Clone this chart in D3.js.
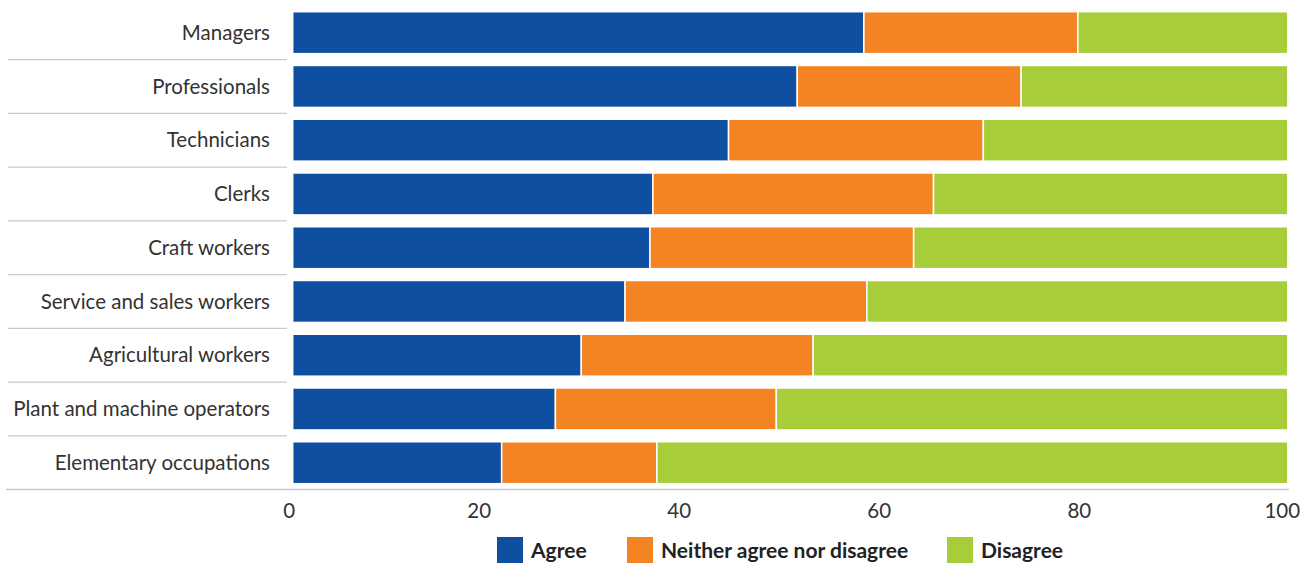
<!DOCTYPE html>
<html>
<head>
<meta charset="utf-8">
<script src="https://cdn.jsdelivr.net/npm/d3@7"></script>
<style>
  html, body { margin: 0; padding: 0; background: #fff; }
  svg { display: block; }
  text { font-family: Lato, "Noto Sans", sans-serif; }
</style>
</head>
<body>
<svg id="chart" width="1312" height="563"></svg>
<script>
// Occupation groups, top to bottom
const categories = [
  "Managers",
  "Professionals",
  "Technicians",
  "Clerks",
  "Craft workers",
  "Service and sales workers",
  "Agricultural workers",
  "Plant and machine operators",
  "Elementary occupations"
];

// Share of respondents (%) per answer
const agree    = [57.4, 50.7, 43.8, 36.2, 35.9, 33.4, 29.0, 26.4, 21.0];
const neither  = [21.5, 22.5, 25.6, 28.2, 26.5, 24.3, 23.3, 22.2, 15.6];
const disagree = [21.1, 26.8, 30.6, 35.6, 37.6, 42.3, 47.7, 51.4, 63.4];

const seriesNames = ["Agree", "Neither agree nor disagree", "Disagree"];
const seriesColors = ["#0e4fa1", "#f48423", "#a8cd3a"];
const tickValues = [0, 20, 40, 60, 80, 100];

const rows = categories.map((c, i) => ({
  category: c,
  "Agree": agree[i],
  "Neither agree nor disagree": neither[i],
  "Disagree": disagree[i]
}));

const svg = d3.select("#chart");

const x = d3.scaleLinear().domain([0, 100]).range([292.7, 1287.8]);
const y = d3.scaleBand().domain(categories).range([5.8, 489.6])
  .paddingInner(0.22).paddingOuter(0.11);
const color = d3.scaleOrdinal().domain(seriesNames).range(seriesColors);

const stacked = d3.stack().keys(seriesNames)(rows);

// Row separators in the label column
const step = y.step();
svg.append("g")
  .selectAll("line")
  .data(categories.slice(1))
  .join("line")
  .attr("x1", 8).attr("x2", 287)
  .attr("y1", d => y(d) - (step - y.bandwidth()) / 2)
  .attr("y2", d => y(d) - (step - y.bandwidth()) / 2)
  .attr("stroke", "#c9c9c9")
  .attr("stroke-width", 1.2);

// Baseline under the last row
svg.append("line")
  .attr("x1", 6).attr("x2", 1289)
  .attr("y1", y.range()[1]).attr("y2", y.range()[1])
  .attr("stroke", "#c9c9c9")
  .attr("stroke-width", 1.5);

// Stacked bars
svg.append("g")
  .selectAll("g")
  .data(stacked)
  .join("g")
  .attr("fill", d => color(d.key))
  .selectAll("rect")
  .data(d => d)
  .join("rect")
  .attr("x", d => x(d[0]))
  .attr("width", d => x(d[1]) - x(d[0]))
  .attr("y", d => y(d.data.category))
  .attr("height", y.bandwidth())
  .attr("stroke", "#fff")
  .attr("stroke-width", 1.5);

// Category labels
svg.append("g")
  .selectAll("text")
  .data(categories)
  .join("text")
  .attr("x", 270)
  .attr("y", d => y(d) + y.bandwidth() / 2)
  .attr("dy", "0.35em")
  .attr("text-anchor", "end")
  .attr("fill", "#333")
  .attr("font-size", 20.5)
  .text(d => d);

// Value axis
const tickShift = { 0: -4, 20: -13, 40: -12, 60: -11, 80: -10, 100: -6 };
const axis = svg.append("g")
  .attr("transform", `translate(0,${y.range()[1]})`)
  .call(d3.axisBottom(x).tickValues(tickValues).tickSize(0).tickPadding(0));
axis.select(".domain").remove();
axis.selectAll("text")
  .attr("font-family", "Lato, 'Noto Sans', sans-serif")
  .attr("font-size", 20.5)
  .attr("fill", "#333")
  .attr("dy", 0)
  .attr("y", 28)
  .attr("dx", d => tickShift[d]);

// Legend
const legendX = [497, 627, 947];
const legend = svg.append("g")
  .selectAll("g")
  .data(seriesNames)
  .join("g")
  .attr("transform", (d, i) => `translate(${legendX[i]},537)`);
legend.append("rect")
  .attr("width", 26).attr("height", 26)
  .attr("fill", d => color(d));
legend.append("text")
  .attr("x", 34).attr("y", 14)
  .attr("dy", "0.35em")
  .attr("font-size", 21)
  .attr("font-weight", "bold")
  .attr("fill", "#222")
  .text(d => d);
</script>
</body>
</html>
